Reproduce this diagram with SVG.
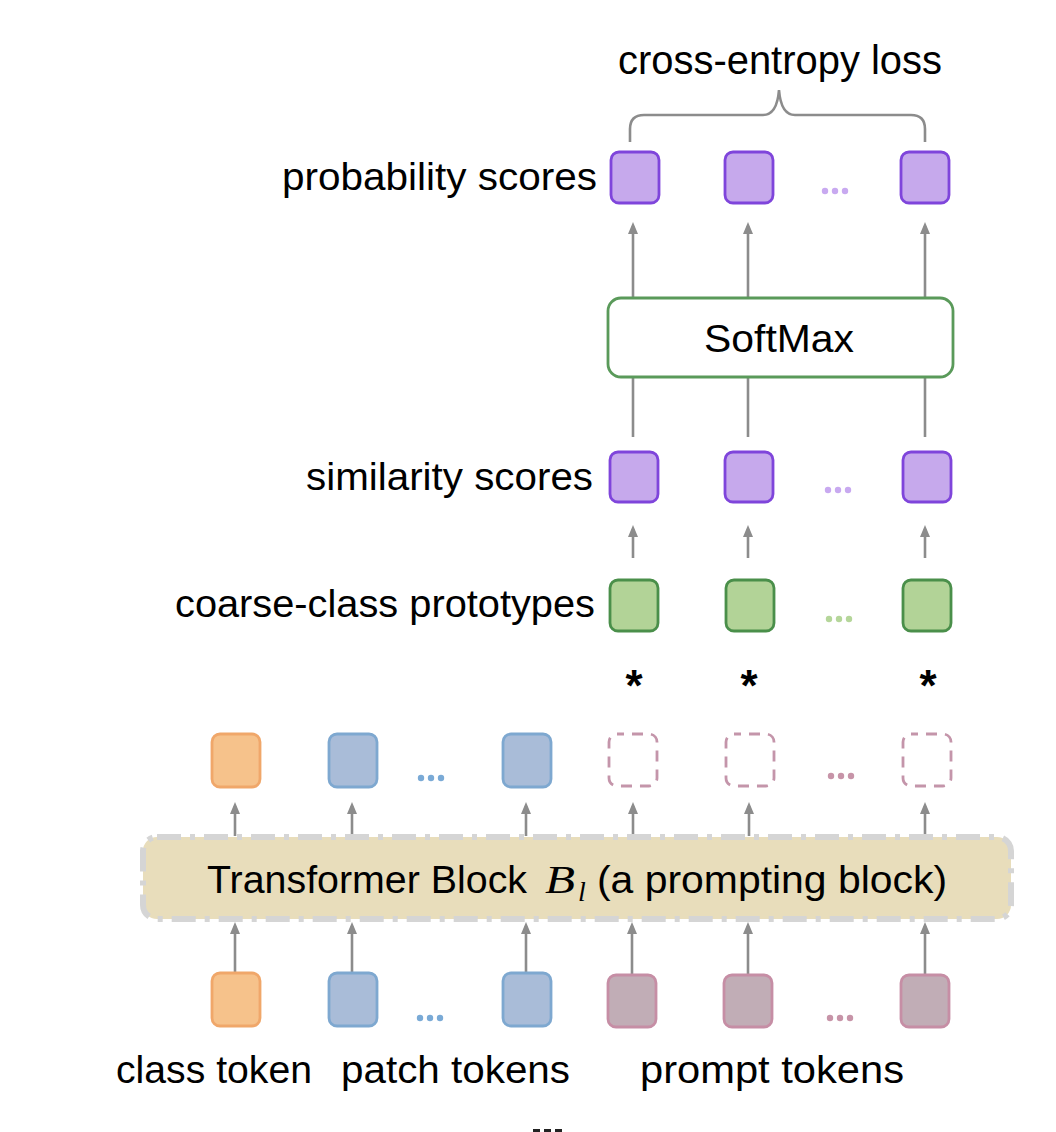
<svg xmlns="http://www.w3.org/2000/svg" width="1056" height="1132" viewBox="0 0 1056 1132">
<style>
text{font-family:"Liberation Sans",Arial,sans-serif;fill:#000}
.lbl{font-size:38px}
.conn{stroke:#8C8C8C;stroke-width:2.6;fill:none}
.tok{stroke-width:2.8}
.pur{fill:#C6A9EC;stroke:#7F45DB}
.grn{fill:#B2D397;stroke:#4A8F4A}
.org{fill:#F6C28B;stroke:#F0A76A}
.blu{fill:#A9BCD8;stroke:#7EA8D0}
.pnk{fill:#C1ADB6;stroke:#C68EA5}
.dsh{fill:none;stroke:#C495AA;stroke-dasharray:11 8;stroke-dashoffset:4}
.star{font-size:44px;font-weight:bold;text-anchor:middle}
</style>
<defs>
<marker id="ah" viewBox="0 0 12 10" refX="8" refY="5" markerWidth="12" markerHeight="10" markerUnits="userSpaceOnUse" orient="auto">
<path d="M0,0 L12,5 L0,10 z" fill="#8C8C8C"/>
</marker>
</defs>
<rect width="1056" height="1132" fill="#fff"/>

<g id="connectors">
<line class="conn" x1="235" y1="973" x2="235" y2="926" marker-end="url(#ah)"/>
<line class="conn" x1="352" y1="973" x2="352" y2="926" marker-end="url(#ah)"/>
<line class="conn" x1="526" y1="973" x2="526" y2="926" marker-end="url(#ah)"/>
<line class="conn" x1="632" y1="975" x2="632" y2="926" marker-end="url(#ah)"/>
<line class="conn" x1="748" y1="975" x2="748" y2="926" marker-end="url(#ah)"/>
<line class="conn" x1="925" y1="975" x2="925" y2="926" marker-end="url(#ah)"/>
<line class="conn" x1="235" y1="836" x2="235" y2="806" marker-end="url(#ah)"/>
<line class="conn" x1="352" y1="836" x2="352" y2="806" marker-end="url(#ah)"/>
<line class="conn" x1="526" y1="836" x2="526" y2="806" marker-end="url(#ah)"/>
<line class="conn" x1="633" y1="836" x2="633" y2="806" marker-end="url(#ah)"/>
<line class="conn" x1="749" y1="836" x2="749" y2="806" marker-end="url(#ah)"/>
<line class="conn" x1="925" y1="836" x2="925" y2="806" marker-end="url(#ah)"/>
<line class="conn" x1="633" y1="558" x2="633" y2="529" marker-end="url(#ah)"/>
<line class="conn" x1="748" y1="558" x2="748" y2="529" marker-end="url(#ah)"/>
<line class="conn" x1="925" y1="558" x2="925" y2="529" marker-end="url(#ah)"/>
<line class="conn" x1="633" y1="437" x2="633" y2="377"/>
<line class="conn" x1="748" y1="437" x2="748" y2="377"/>
<line class="conn" x1="925" y1="437" x2="925" y2="377"/>
<line class="conn" x1="633" y1="297" x2="633" y2="226" marker-end="url(#ah)"/>
<line class="conn" x1="748" y1="297" x2="748" y2="226" marker-end="url(#ah)"/>
<line class="conn" x1="925" y1="297" x2="925" y2="226" marker-end="url(#ah)"/>
<path class="conn" stroke-width="3" d="M630,142 V129 Q630,115 644,115 H763 Q777,115 779,90 Q781,115 795,115 H911 Q925,115 925,129 V142"/>
</g>

<g id="cross-entropy-loss">
<text x="618" y="74" font-size="40" textLength="324" lengthAdjust="spacingAndGlyphs">cross-entropy loss</text>
</g>

<g id="probability-scores">
<text class="lbl" x="282" y="190" textLength="315" lengthAdjust="spacingAndGlyphs">probability scores</text>
<rect class="tok pur" x="611" y="152" width="48" height="51" rx="8"/>
<rect class="tok pur" x="725" y="152" width="48" height="51" rx="8"/>
<rect class="tok pur" x="901" y="152" width="48" height="51" rx="8"/>
<g fill="#C8A9F0"><circle cx="825" cy="191" r="3.2"/><circle cx="835" cy="191" r="3.2"/><circle cx="845" cy="191" r="3.2"/></g>
</g>

<g id="softmax">
<rect x="608" y="298" width="345" height="79" rx="13" fill="#fff" stroke="#5A9A5A" stroke-width="2.8"/>
<text class="lbl" x="704" y="352" textLength="150" lengthAdjust="spacingAndGlyphs">SoftMax</text>
</g>

<g id="similarity-scores">
<text class="lbl" x="306" y="490" textLength="287" lengthAdjust="spacingAndGlyphs">similarity scores</text>
<rect class="tok pur" x="610" y="452" width="48" height="50" rx="8"/>
<rect class="tok pur" x="725" y="452" width="48" height="50" rx="8"/>
<rect class="tok pur" x="903" y="452" width="48" height="50" rx="8"/>
<g fill="#C8A9F0"><circle cx="828" cy="490" r="3.2"/><circle cx="838" cy="490" r="3.2"/><circle cx="848" cy="490" r="3.2"/></g>
</g>

<g id="coarse-class-prototypes">
<text class="lbl" x="175" y="617" textLength="420" lengthAdjust="spacingAndGlyphs">coarse-class prototypes</text>
<rect class="tok grn" x="610" y="580" width="48" height="51" rx="8"/>
<rect class="tok grn" x="726" y="580" width="48" height="51" rx="8"/>
<rect class="tok grn" x="903" y="580" width="48" height="51" rx="8"/>
<g fill="#B5D69A"><circle cx="829" cy="619" r="3.2"/><circle cx="839" cy="619" r="3.2"/><circle cx="849" cy="619" r="3.2"/></g>
</g>

<g id="stars">
<text class="star" x="634" y="701">*</text>
<text class="star" x="749" y="701">*</text>
<text class="star" x="928" y="701">*</text>
</g>

<g id="output-tokens">
<rect class="tok org" x="212" y="734" width="48" height="53" rx="8"/>
<rect class="tok blu" x="329" y="734" width="48" height="53" rx="8"/>
<rect class="tok blu" x="503" y="734" width="48" height="53" rx="8"/>
<g fill="#7AAAD6"><circle cx="421" cy="778" r="3.2"/><circle cx="431" cy="778" r="3.2"/><circle cx="441" cy="778" r="3.2"/></g>
<rect class="tok dsh" x="609" y="734" width="48" height="52" rx="8"/>
<rect class="tok dsh" x="726" y="734" width="48" height="52" rx="8"/>
<rect class="tok dsh" x="903" y="734" width="48" height="52" rx="8"/>
<g fill="#C794A8"><circle cx="831" cy="776" r="3.2"/><circle cx="841" cy="776" r="3.2"/><circle cx="851" cy="776" r="3.2"/></g>
</g>

<g id="transformer-block">
<rect x="143" y="837" width="868" height="82" rx="14" fill="#E8DDBB" stroke="#D5D5D5" stroke-width="6" stroke-dasharray="24 9 5 9"/>
<text class="lbl" x="207" y="893" textLength="320" lengthAdjust="spacingAndGlyphs">Transformer Block</text>
<text x="545" y="893" font-size="40" font-style="italic" style="font-family:'Liberation Serif','Times New Roman',serif" textLength="30" lengthAdjust="spacingAndGlyphs">B</text>
<text x="578" y="901" font-size="28" font-style="italic" style="font-family:'Liberation Serif','Times New Roman',serif">l</text>
<text class="lbl" x="597" y="893" textLength="350" lengthAdjust="spacingAndGlyphs">(a prompting block)</text>
</g>

<g id="input-tokens">
<rect class="tok org" x="212" y="973" width="48" height="53" rx="8"/>
<rect class="tok blu" x="329" y="973" width="48" height="53" rx="8"/>
<rect class="tok blu" x="503" y="973" width="48" height="53" rx="8"/>
<g fill="#7AAAD6"><circle cx="420" cy="1018" r="3.2"/><circle cx="430" cy="1018" r="3.2"/><circle cx="440" cy="1018" r="3.2"/></g>
<rect class="tok pnk" x="608" y="975" width="48" height="52" rx="8"/>
<rect class="tok pnk" x="724" y="975" width="48" height="52" rx="8"/>
<rect class="tok pnk" x="901" y="975" width="48" height="52" rx="8"/>
<g fill="#C794A8"><circle cx="830" cy="1018" r="3.2"/><circle cx="840" cy="1018" r="3.2"/><circle cx="850" cy="1018" r="3.2"/></g>
</g>

<g id="labels-bottom">
<text class="lbl" x="116" y="1083" textLength="196" lengthAdjust="spacingAndGlyphs">class token</text>
<text class="lbl" x="341" y="1083" textLength="229" lengthAdjust="spacingAndGlyphs">patch tokens</text>
<text class="lbl" x="640" y="1083" textLength="264" lengthAdjust="spacingAndGlyphs">prompt tokens</text>
</g>

<g id="cut-off-mark" fill="#222">
<rect x="533" y="1129" width="7" height="3"/>
<rect x="544" y="1129" width="7" height="3"/>
<rect x="555" y="1129" width="7" height="3"/>
</g>
</svg>
